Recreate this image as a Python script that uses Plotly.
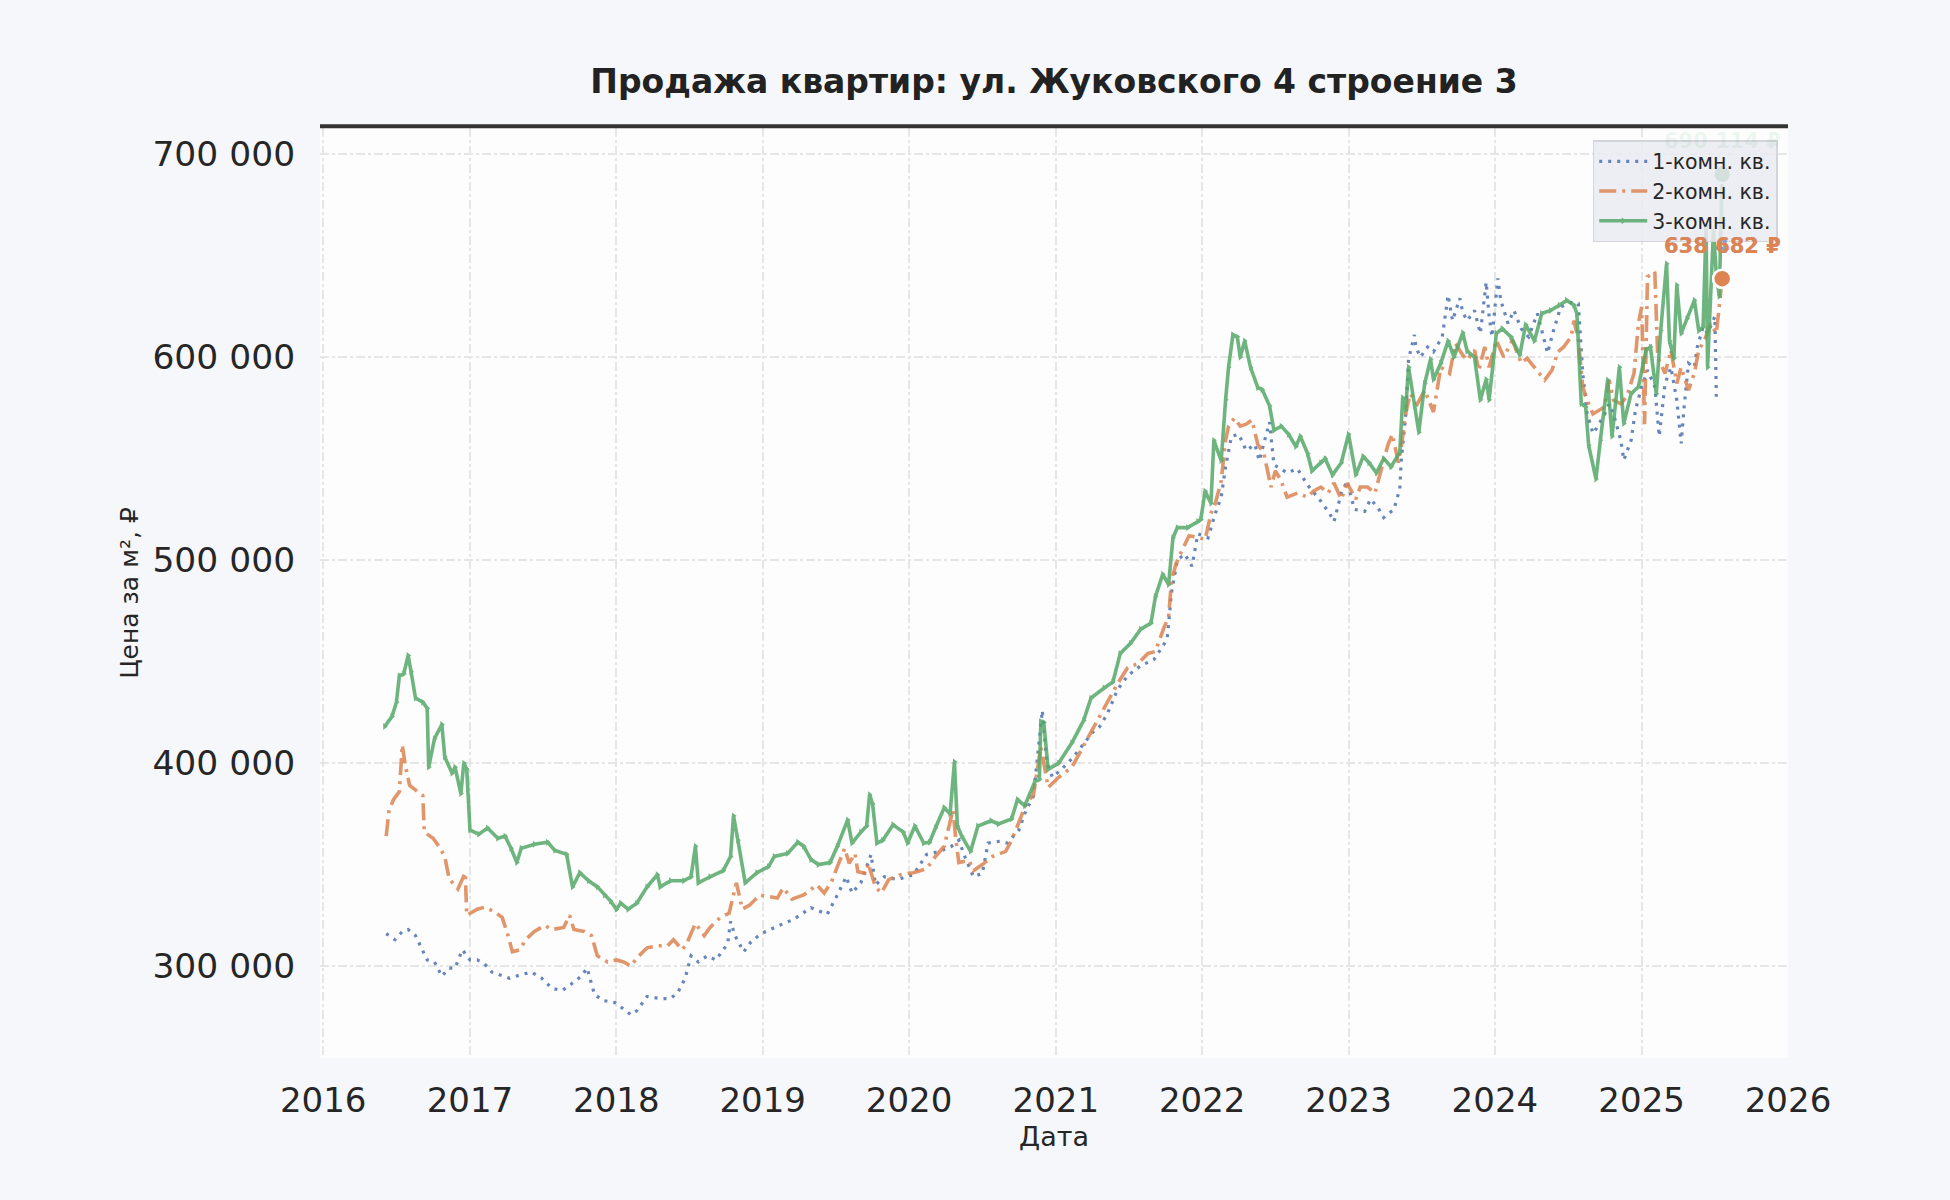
import plotly.graph_objects as go
import pandas as pd

# Цены за м² (тыс. ₽), даты — в долях года, как читаются с графика
t1 = [2016.43, 2016.49, 2016.54, 2016.58, 2016.63, 2016.68, 2016.71, 2016.76, 2016.81, 2016.86,
      2016.90, 2016.95, 2017.00, 2017.05, 2017.10, 2017.15, 2017.27, 2017.36, 2017.42, 2017.49,
      2017.56, 2017.63, 2017.69, 2017.76, 2017.80, 2017.85, 2017.91, 2017.99, 2018.05, 2018.10,
      2018.14, 2018.21, 2018.30, 2018.37, 2018.42, 2018.47, 2018.51, 2018.56, 2018.62, 2018.68,
      2018.76, 2018.78, 2018.81, 2018.87, 2018.92, 2018.99, 2019.10, 2019.21, 2019.33, 2019.44,
      2019.51, 2019.57, 2019.61, 2019.67, 2019.74, 2019.77, 2019.83, 2019.92, 2020.03, 2020.12,
      2020.21, 2020.29, 2020.34, 2020.38, 2020.44, 2020.50, 2020.54, 2020.62, 2020.67, 2020.75,
      2020.80, 2020.85, 2020.91, 2020.94, 2020.98, 2021.04, 2021.12, 2021.20, 2021.25, 2021.30,
      2021.35, 2021.42, 2021.49, 2021.58, 2021.67, 2021.76, 2021.79, 2021.83, 2021.88, 2021.93,
      2021.97, 2022.04, 2022.09, 2022.13, 2022.16, 2022.20, 2022.25, 2022.30, 2022.36, 2022.39,
      2022.42, 2022.46, 2022.49, 2022.58, 2022.65, 2022.72, 2022.80, 2022.87, 2022.90, 2022.95,
      2022.99, 2023.04, 2023.11, 2023.15, 2023.20, 2023.24, 2023.31, 2023.35, 2023.36, 2023.39,
      2023.41, 2023.45, 2023.46, 2023.49, 2023.54, 2023.58, 2023.64, 2023.68, 2023.71, 2023.76,
      2023.78, 2023.81, 2023.86, 2023.90, 2023.94, 2023.96, 2023.98, 2024.02, 2024.04, 2024.09,
      2024.13, 2024.18, 2024.23, 2024.29, 2024.36, 2024.40, 2024.45, 2024.52, 2024.57, 2024.60,
      2024.63, 2024.67, 2024.70, 2024.75, 2024.78, 2024.81, 2024.86, 2024.88, 2024.93, 2024.96,
      2025.00, 2025.04, 2025.09, 2025.12, 2025.16, 2025.20, 2025.24, 2025.27, 2025.29, 2025.32,
      2025.36, 2025.38, 2025.42, 2025.45, 2025.50, 2025.51]
p1 = [316, 313, 317, 318, 315, 308, 303, 302, 295, 299,
      299, 308, 303, 303, 301, 297, 294, 296, 297, 294,
      289, 288, 291, 295, 299, 286, 283, 282, 279, 276,
      278, 285, 284, 284, 287, 294, 305, 302, 305, 303,
      311, 322, 315, 307, 312, 316, 319.6, 323, 328.7, 325.5,
      335, 344, 336, 341, 355, 340, 344, 342.6, 345, 355,
      356.5, 359, 362, 354, 344, 345.6, 360.6, 361.5, 360.6, 367,
      377, 383.7, 426, 400, 393, 397, 403, 410.5, 415, 418,
      424, 436, 443, 448, 451, 461, 484, 500, 503, 497,
      513, 511, 523, 531, 546, 561, 562, 554, 557, 549,
      557, 568, 547, 543, 545, 537, 530, 523, 519, 533,
      539, 525, 524, 530, 526, 521, 525, 535, 549, 571,
      599, 611, 605, 600, 605, 602.6, 610, 630.5, 618, 629,
      622, 618, 623, 611.7, 637, 620, 610, 638.8, 628, 616.6,
      623, 614, 610, 621.5, 602, 613, 624.8, 627, 626.4, 592,
      572, 562.4, 565.7, 572, 577, 572, 559, 549.3, 559, 574,
      585.4, 593.6, 585.4, 561, 587, 595, 578.8, 557.5, 575.5, 597,
      595, 605, 615, 611.7, 620, 580.5]

t2 = [2016.43, 2016.45, 2016.48, 2016.52, 2016.54, 2016.56, 2016.59, 2016.63, 2016.68, 2016.69,
      2016.75, 2016.79, 2016.83, 2016.86, 2016.92, 2016.97, 2016.98, 2017.05, 2017.10, 2017.16,
      2017.22, 2017.26, 2017.29, 2017.34, 2017.38, 2017.44, 2017.51, 2017.56, 2017.64, 2017.68,
      2017.71, 2017.78, 2017.83, 2017.87, 2017.94, 2018.00, 2018.05, 2018.10, 2018.14, 2018.21,
      2018.28, 2018.35, 2018.39, 2018.45, 2018.48, 2018.54, 2018.60, 2018.64, 2018.71, 2018.77,
      2018.82, 2018.86, 2018.91, 2018.98, 2019.10, 2019.14, 2019.20, 2019.28, 2019.37, 2019.42,
      2019.47, 2019.51, 2019.56, 2019.59, 2019.63, 2019.65, 2019.71, 2019.72, 2019.77, 2019.81,
      2019.86, 2019.94, 2020.03, 2020.12, 2020.18, 2020.24, 2020.26, 2020.30, 2020.32, 2020.34,
      2020.41, 2020.44, 2020.50, 2020.57, 2020.66, 2020.70, 2020.74, 2020.80, 2020.85, 2020.90,
      2020.95, 2021.02, 2021.11, 2021.20, 2021.31, 2021.42, 2021.49, 2021.56, 2021.63, 2021.68,
      2021.74, 2021.77, 2021.79, 2021.82, 2021.85, 2021.91, 2021.98, 2022.02, 2022.06, 2022.09,
      2022.13, 2022.16, 2022.18, 2022.22, 2022.26, 2022.30, 2022.34, 2022.38, 2022.42, 2022.47,
      2022.50, 2022.54, 2022.58, 2022.65, 2022.72, 2022.76, 2022.81, 2022.86, 2022.90, 2022.95,
      2022.99, 2023.05, 2023.08, 2023.13, 2023.18, 2023.22, 2023.27, 2023.30, 2023.34, 2023.36,
      2023.39, 2023.42, 2023.47, 2023.52, 2023.58, 2023.63, 2023.69, 2023.73, 2023.78, 2023.81,
      2023.86, 2023.89, 2023.93, 2023.96, 2024.01, 2024.06, 2024.12, 2024.18, 2024.22, 2024.27,
      2024.34, 2024.39, 2024.43, 2024.47, 2024.52, 2024.54, 2024.57, 2024.60, 2024.63, 2024.67,
      2024.71, 2024.75, 2024.78, 2024.81, 2024.86, 2024.90, 2024.95, 2024.98, 2025.00, 2025.02,
      2025.04, 2025.09, 2025.11, 2025.16, 2025.20, 2025.24, 2025.27, 2025.32, 2025.36, 2025.39,
      2025.43, 2025.47, 2025.51, 2025.55]
p2 = [364, 377, 382, 386, 409, 399, 389, 387, 384, 366,
      363, 359, 354, 343, 338, 346, 325, 328, 329, 327,
      324, 315, 307, 308, 313, 317, 320, 318, 319, 325,
      318, 317, 315, 305, 302, 303, 302, 300, 304, 309,
      310, 310, 313, 308, 311, 321, 315, 319, 324, 326,
      341, 328, 330, 335, 333.5, 338.5, 333, 335, 340, 336,
      341.5, 349, 358, 350.6, 355.5, 346.5, 345.6, 350.6, 339, 336,
      342.6, 345, 346, 348, 354, 359, 365, 377, 362, 351,
      352, 347, 350, 354, 356.5, 362, 369, 380, 384.5, 408,
      388, 393, 398, 410, 424, 439, 447, 449, 454, 455,
      467, 472, 490, 498, 503, 512, 511, 510, 523, 528,
      539, 559, 566, 570, 566, 567, 569, 557, 553, 536,
      544, 539, 531, 533, 531, 534, 536, 533, 538, 530,
      538, 530, 536, 536, 533, 543, 557, 562, 548, 555.8,
      572, 582, 577, 583.7, 573, 595, 592, 606.7, 601, 598.5,
      603.5, 593.6, 605, 595, 608.4, 600, 608.4, 597, 599.4, 595,
      588.7, 593.6, 602.6, 605, 610, 618, 608.4, 585.4, 578.8, 572,
      574, 575.5, 588.7, 578.8, 577, 580.5, 592, 616.6, 624.8, 567,
      639.6, 642, 600, 592, 603.5, 587, 595, 583.7, 592, 603.5,
      608.4, 616.6, 611.7, 638.682]

t3 = [2016.42, 2016.47, 2016.50, 2016.52, 2016.55, 2016.58, 2016.60, 2016.63, 2016.68, 2016.71,
      2016.72, 2016.76, 2016.81, 2016.83, 2016.88, 2016.90, 2016.94, 2016.96, 2016.98, 2017.00,
      2017.06, 2017.12, 2017.19, 2017.24, 2017.28, 2017.32, 2017.35, 2017.44, 2017.53, 2017.58,
      2017.66, 2017.70, 2017.75, 2017.81, 2017.87, 2017.92, 2017.96, 2018.00, 2018.03, 2018.08,
      2018.14, 2018.21, 2018.28, 2018.30, 2018.37, 2018.46, 2018.51, 2018.54, 2018.56, 2018.64,
      2018.73, 2018.78, 2018.80, 2018.83, 2018.88, 2018.96, 2019.04, 2019.08, 2019.17, 2019.24,
      2019.28, 2019.33, 2019.38, 2019.46, 2019.51, 2019.58, 2019.61, 2019.67, 2019.71, 2019.73,
      2019.75, 2019.78, 2019.82, 2019.89, 2019.96, 2019.99, 2020.04, 2020.10, 2020.14, 2020.18,
      2020.24, 2020.28, 2020.31, 2020.33, 2020.36, 2020.42, 2020.47, 2020.56, 2020.61, 2020.70,
      2020.74, 2020.79, 2020.86, 2020.89, 2020.90, 2020.92, 2020.95, 2021.02, 2021.11, 2021.19,
      2021.24, 2021.33, 2021.39, 2021.44, 2021.51, 2021.58, 2021.65, 2021.68, 2021.73, 2021.77,
      2021.80, 2021.83, 2021.90, 2021.97, 2021.99, 2022.02, 2022.06, 2022.08, 2022.13, 2022.16,
      2022.18, 2022.21, 2022.24, 2022.26, 2022.29, 2022.33, 2022.38, 2022.41, 2022.46, 2022.49,
      2022.54, 2022.59, 2022.64, 2022.67, 2022.72, 2022.75, 2022.81, 2022.84, 2022.89, 2022.95,
      2023.00, 2023.05, 2023.10, 2023.14, 2023.19, 2023.24, 2023.29, 2023.35, 2023.37, 2023.39,
      2023.41, 2023.45, 2023.48, 2023.52, 2023.56, 2023.58, 2023.63, 2023.68, 2023.72, 2023.78,
      2023.81, 2023.86, 2023.90, 2023.94, 2023.96, 2024.01, 2024.05, 2024.11, 2024.17, 2024.21,
      2024.27, 2024.32, 2024.38, 2024.44, 2024.49, 2024.54, 2024.56, 2024.59, 2024.62, 2024.64,
      2024.69, 2024.72, 2024.77, 2024.80, 2024.85, 2024.88, 2024.93, 2024.98, 2025.03, 2025.06,
      2025.10, 2025.13, 2025.17, 2025.19, 2025.22, 2025.24, 2025.27, 2025.31, 2025.36, 2025.39,
      2025.42, 2025.44, 2025.45, 2025.49, 2025.51, 2025.53, 2025.55]
p3 = [418, 423, 430, 443, 444, 453, 445, 432, 430, 427,
      398, 412, 419, 403, 395, 398, 385, 400, 397, 367,
      365, 368, 363, 364, 358, 351, 358, 360, 361, 357,
      355, 339, 346, 342, 339, 335, 332, 328, 331, 328,
      331, 339, 345, 339, 342, 342, 344, 359, 341, 344,
      347, 354, 374, 362, 341, 346, 349, 354, 355.5, 361,
      359, 352.5, 350, 351, 359, 372, 360.6, 366, 369, 384.4,
      380, 360.6, 362, 369.6, 366, 360.6, 369, 360.6, 361, 368,
      378, 375, 400.6, 369, 364, 356.5, 369, 371.6, 370, 372.5,
      382, 379, 391, 392, 420.5, 420, 397, 400, 410, 421,
      432, 437, 440, 454, 459, 466, 469, 482, 493, 488,
      511, 516, 516, 519, 520, 534, 528, 559, 549, 579,
      595, 611, 610, 600, 608, 595, 585, 584, 576, 564,
      566, 562, 556, 561, 552.5, 544, 548, 550, 542, 548,
      562, 542, 551, 548, 543, 550, 546, 553, 580, 574,
      595, 576, 563, 587, 599, 589, 597, 608, 600, 612,
      603, 600, 579, 589, 579, 611.7, 614, 610, 601, 616,
      608, 621.5, 623, 625.6, 628, 625.6, 621.5, 577, 575.5, 556.6,
      540, 559, 588.7, 561, 595, 567.3, 582, 585.4, 603.5, 605,
      582, 613, 646, 608, 599.4, 635.5, 611.7, 619, 628, 613,
      615, 665, 595, 662, 641, 630, 690.1]

series_names = ["1-комн. кв.", "2-комн. кв.", "3-комн. кв."]
series_colors = ["#4c72b0", "#dd8452", "#55a868"]
last_date = 2025.55
last_price = [638482, 638682, 690114]


def to_date(y):
    year = int(y)
    return pd.Timestamp(year=year, month=1, day=1) + pd.Timedelta(days=(y - year) * 365.25)


def dates(ts):
    return [to_date(v) for v in ts]


def rub(vals):
    return [v * 1000 for v in vals]


fig = go.Figure()

fig.add_trace(go.Scatter(x=dates(t1), y=rub(p1), mode="lines", name=series_names[0],
                         line=dict(color=series_colors[0], width=3.2, dash="3px,6px"), opacity=0.85))
fig.add_trace(go.Scatter(x=dates(t2), y=rub(p2), mode="lines", name=series_names[1],
                         line=dict(color=series_colors[1], width=3.6, dash="17px,6px,3px,6px"), opacity=0.85))
fig.add_trace(go.Scatter(x=dates(t3), y=rub(p3), mode="lines+markers", name=series_names[2],
                         line=dict(color=series_colors[2], width=3.6),
                         marker=dict(symbol="triangle-right", size=6, color=series_colors[2]),
                         opacity=0.85))

# последние значения: точки и подписи
for i in range(3):
    fig.add_trace(go.Scatter(x=[to_date(last_date)], y=[last_price[i]], mode="markers",
                             showlegend=False,
                             marker=dict(size=18, color=series_colors[i],
                                         line=dict(color="white", width=2.5))))

label_colors = ["rgba(76,114,176,0.6)", series_colors[1], "rgba(85,168,104,0.1)"]
for i in [0, 2, 1]:
    fig.add_annotation(x=to_date(last_date), y=last_price[i], xref="x", yref="y",
                       text="<b>" + f"{last_price[i]:,}".replace(",", " ") + " ₽</b>",
                       showarrow=False, yshift=33,
                       font=dict(family="DejaVu Sans", size=21, color=label_colors[i]))

# тёмная линия сверху области графика
fig.add_shape(type="line", xref="paper", yref="paper", x0=0, x1=1, y0=1.002, y1=1.002,
              line=dict(color="#333333", width=4))

fig.update_layout(
    width=1950, height=1200,
    paper_bgcolor="#f6f7fb", plot_bgcolor="#fdfdfd",
    font=dict(family="DejaVu Sans", color="#262626"),
    separators=", ",
    margin=dict(l=320, r=162, t=128, b=142),
    title=dict(text="<b>Продажа квартир: ул. Жуковского 4 строение 3</b>",
               x=0.5, xref="paper", y=1 - 81 / 1200, yref="container",
               xanchor="center", yanchor="middle",
               font=dict(family="DejaVu Sans", size=33, color="#222222")),
    legend=dict(x=0.993, y=0.987, xanchor="right", yanchor="top",
                bgcolor="rgba(234,234,242,0.85)", bordercolor="#d4d4dc", borderwidth=1.5,
                itemwidth=48, font=dict(size=20.5, color="#262626")),
    showlegend=True,
)

fig.update_xaxes(
    type="date", range=["2015-12-24", "2026-01-01"],
    tick0="2016-01-01", dtick="M12", tickformat="%Y",
    showgrid=True, gridcolor="#e6e6e6", gridwidth=2, griddash="dashdot",
    zeroline=False, showline=False,
    ticks="outside", ticklen=12, tickcolor="rgba(0,0,0,0)",
    tickfont=dict(size=34, color="#262626"),
    title=dict(text="Дата", font=dict(size=27, color="#262626"), standoff=8),
)
fig.update_yaxes(
    range=[254700, 712900], dtick=100000, tickformat=",d",
    showgrid=True, gridcolor="#e6e6e6", gridwidth=2, griddash="dashdot",
    zeroline=False, showline=False,
    ticks="outside", ticklen=17, tickcolor="rgba(0,0,0,0)",
    tickfont=dict(size=34.5, color="#262626"),
    title=dict(text="Цена за м², ₽", font=dict(size=25, color="#262626"), standoff=6),
)

fig.write_html("out.html", config={"displayModeBar": False},
               post_script="document.body.style.margin='0';document.body.style.background='#f6f7fb';")
